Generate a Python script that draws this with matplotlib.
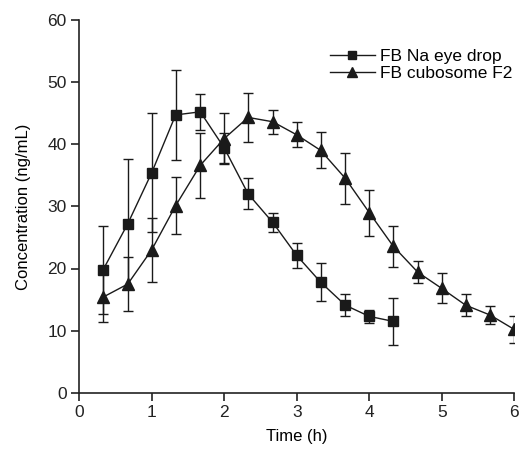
import matplotlib
matplotlib.use("Agg")
import matplotlib.pyplot as plt

plt.rcParams["font.family"] = ["Liberation Sans", "DejaVu Sans"]

# FB Na eye drop
time_na = [0.33, 0.67, 1.0, 1.33, 1.67, 2.0, 2.33, 2.67, 3.0, 3.33, 3.67, 4.0, 4.33]
conc_na = [19.8, 27.2, 35.4, 44.7, 45.2, 39.4, 32.0, 27.4, 22.1, 17.8, 14.1, 12.3, 11.5]
err_na = [7.1, 10.4, 9.6, 7.2, 2.9, 2.4, 2.5, 1.6, 2.0, 3.1, 1.8, 1.0, 3.8]

# FB cubosome F2
time_cub = [0.33, 0.67, 1.0, 1.33, 1.67, 2.0, 2.33, 2.67, 3.0, 3.33, 3.67, 4.0,
            4.33, 4.67, 5.0, 5.33, 5.67, 6.0]
conc_cub = [15.4, 17.5, 23.0, 30.1, 36.6, 40.9, 44.3, 43.6, 41.5, 39.0, 34.5, 29.0,
            23.6, 19.4, 16.8, 14.1, 12.5, 10.2]
err_cub = [4.0, 4.3, 5.1, 4.6, 5.2, 4.1, 3.9, 1.9, 2.0, 2.9, 4.1, 3.7,
           3.3, 1.8, 2.4, 1.8, 1.5, 2.2]

fig = plt.figure(figsize=(5.21, 4.5), dpi=100)
ax = fig.add_axes([0.152, 0.127, 0.835, 0.829])

eb_na = ax.errorbar(time_na, conc_na, yerr=err_na, color="#1a1a1a", marker="s", ms=7,
                    lw=1.0, elinewidth=1.0, capsize=3.5, capthick=1.0,
                    label="FB Na eye drop", zorder=3)
eb_cub = ax.errorbar(time_cub, conc_cub, yerr=err_cub, color="#1a1a1a", marker="^", ms=9,
                     lw=1.0, elinewidth=1.0, capsize=3.5, capthick=1.0,
                     label="FB cubosome F2", zorder=3)

ax.set_xlim(0, 6)
ax.set_ylim(0, 60)
ax.set_xticks(range(0, 7))
ax.set_yticks(range(0, 61, 10))
ax.tick_params(labelsize=12.5, length=6, width=1.2, direction="out", pad=3,
               colors="#222222")
ax.spines["top"].set_visible(False)
ax.spines["right"].set_visible(False)
ax.spines["left"].set_linewidth(1.2)
ax.spines["bottom"].set_linewidth(1.2)
for sp in ("left", "bottom"):
    ax.spines[sp].set_clip_on(False)
    ax.spines[sp].set_color("#222222")

ax.set_xlabel("Time (h)", fontsize=12, labelpad=6)
ax.set_ylabel("Concentration (ng/mL)", fontsize=12, labelpad=12)

ax.legend(handles=[eb_na.lines[0], eb_cub.lines[0]],
          labels=["FB Na eye drop", "FB cubosome F2"],
          loc="upper right", bbox_to_anchor=(1.02, 0.95), frameon=False,
          fontsize=12.5, handlelength=2.6, labelspacing=0.12, markerscale=0.85,
          handletextpad=0.3, borderaxespad=0.2)

fig.savefig("out.png", dpi=100)
